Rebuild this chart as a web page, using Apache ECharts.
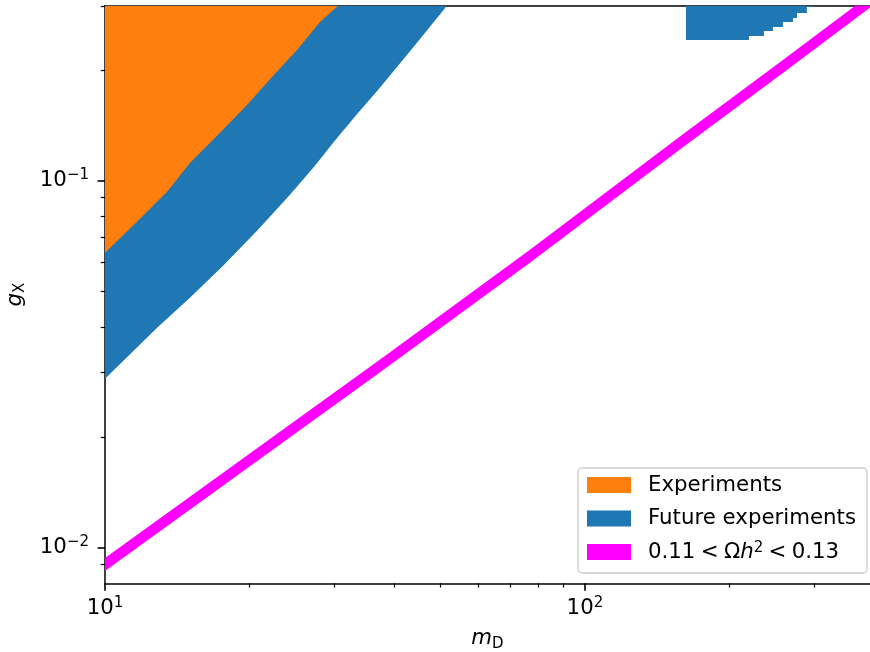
<!DOCTYPE html>
<html>
<head>
<meta charset="utf-8">
<script src="https://cdn.jsdelivr.net/npm/echarts@6/dist/echarts.min.js"></script>
<style>
  html, body { margin: 0; padding: 0; background: #ffffff; }
  #chart { width: 870px; height: 652px; }
</style>
</head>
<body>
<div id="chart"></div>
<script>
// Parameter plane: dark-photon mass m_D (x) against coupling g_X (y), both logarithmic.

// Region already excluded by experiments: lower edge of the excluded area.
const expMass     = [10, 11.66, 13.47, 15.03, 17.20, 19.76, 22.28, 25.12, 28.05, 30.58];
const expCoupling = [0.0637, 0.0773, 0.0933, 0.1119, 0.1335, 0.1610, 0.1919, 0.2274, 0.2710, 0.30];

// Reach of future experiments: lower edge of the probed area.
const futureMass     = [10, 12.84, 15.03, 17.62, 20.74, 24.29, 27.38, 29.99, 33.66, 37.05, 40.59, 44.45, 51.58];
const futureCoupling = [0.0289, 0.0398, 0.0480, 0.0587, 0.0731, 0.0916, 0.1099, 0.1277, 0.1531, 0.1769, 0.2043, 0.2360, 0.30];

// Second, high-mass patch probed by future experiments (stepped lower edge).
const futureHighMass     = [162.4, 219.6, 236.0, 246.4, 258.5, 271.3, 276.6, 290.0, 304.3];
const futureHighCoupling = [0.2420, 0.2482, 0.2561, 0.2627, 0.2710, 0.2780, 0.2868, 0.2978, 0.2978];

// Band with the observed relic abundance 0.11 < Omega h^2 < 0.13.
const relicMass       = [10, 38.49, 77.55, 160.0, 261.0, 381.2, 400];
const relicCouplingLo = [0.00864, 0.03087, 0.06039, 0.12337, 0.19864, 0.28802, 0.30175];
const relicCouplingHi = [0.00937, 0.03349, 0.06552, 0.13385, 0.21551, 0.31248, 0.32738];

// Axis ranges and ticks.
const massRange = [10, 392.6];
const couplingRange = [0.008, 0.3];
const massMajorTicks = [10, 100];
const massMinorTicks = [20, 30, 40, 50, 60, 70, 80, 90, 200, 300];
const couplingMajorTicks = [0.01, 0.1];
const couplingMinorTicks = [0.009, 0.02, 0.03, 0.04, 0.05, 0.06, 0.07, 0.08, 0.09, 0.2, 0.3];

const legendNames = ['Experiments', 'Future experiments', '0.11 < \u03A9h2 < 0.13'];
const colors = { exp: '#ff7f0e', future: '#1f77b4', relic: '#ff00ff' };

const FONT = 'DejaVu Sans';
const FS = 21.3;
const SUP = 15;

const pair = (xs, ys) => xs.map((x, i) => [x, ys[i]]);

function powLabel(v) {
  const e = Math.round(Math.log10(v));
  const s = e < 0 ? '\u2212' + Math.abs(e) : String(e);
  return '{b|10}{sup|' + s + '}';
}
const tickRich = {
  b: { fontFamily: FONT, fontSize: FS, lineHeight: 26, color: '#000' },
  sup: { fontFamily: FONT, fontSize: SUP, lineHeight: 18, verticalAlign: 'top', color: '#000' }
};

const spine = { show: true, lineStyle: { color: '#000', width: 1.5 } };

function helperAxis(range, position, ticks, len, width, showLine) {
  return {
    type: 'log', logBase: 10, min: range[0], max: range[1], position: position,
    axisLine: showLine ? spine : { show: false },
    axisTick: ticks ? { show: true, customValues: ticks, length: len, lineStyle: { color: '#000', width: width } } : { show: false },
    axisLabel: { show: false },
    splitLine: { show: false },
    minorTick: { show: false }
  };
}

const chart = echarts.init(document.getElementById('chart'), null, { renderer: 'canvas' });

chart.setOption({
  animation: false,
  backgroundColor: '#ffffff',
  grid: { left: 105, right: 0, top: 5.75, bottom: 68.7, containLabel: false, outerBoundsMode: 'none' },
  xAxis: [
    {
      type: 'log', logBase: 10, min: massRange[0], max: massRange[1], position: 'bottom',
      axisLine: spine,
      axisTick: { show: true, customValues: massMajorTicks, length: 7.4, lineStyle: { color: '#000', width: 1.6 } },
      axisLabel: { customValues: massMajorTicks, formatter: powLabel, margin: 12, rich: tickRich },
      splitLine: { show: false },
      minorTick: { show: false },
      name: '{i|m}{s|D}',
      nameLocation: 'middle',
      nameGap: 42,
      nameTextStyle: {
        rich: {
          i: { fontFamily: FONT, fontStyle: 'italic', fontSize: FS, lineHeight: 26, color: '#000' },
          s: { fontFamily: FONT, fontSize: SUP, lineHeight: 10, verticalAlign: 'bottom', color: '#000' }
        }
      }
    },
    helperAxis(massRange, 'bottom', massMinorTicks, 4.25, 1.2, false),
    helperAxis(massRange, 'top', null, 0, 0, true)
  ],
  yAxis: [
    {
      type: 'log', logBase: 10, min: couplingRange[0], max: couplingRange[1], position: 'left',
      axisLine: spine,
      axisTick: { show: true, customValues: couplingMajorTicks, length: 7.4, lineStyle: { color: '#000', width: 1.6 } },
      axisLabel: { customValues: couplingMajorTicks, formatter: powLabel, margin: 16, rich: tickRich },
      splitLine: { show: false },
      minorTick: { show: false },
      name: '{i|g}{s|X}',
      nameLocation: 'middle',
      nameRotate: 90,
      nameGap: 77,
      nameTextStyle: {
        rich: {
          i: { fontFamily: FONT, fontStyle: 'italic', fontSize: FS, lineHeight: 26, color: '#000' },
          s: { fontFamily: FONT, fontSize: SUP, lineHeight: 15.6, verticalAlign: 'bottom', color: '#000' }
        }
      }
    },
    helperAxis(couplingRange, 'left', couplingMinorTicks, 4.25, 1.2, false)
  ],
  legend: {
    orient: 'vertical',
    left: 578,
    top: 468,
    padding: [6, 11, 10, 9],
    itemGap: 11.5,
    itemWidth: 44,
    itemHeight: 16,
    icon: 'rect',
    selectedMode: false,
    backgroundColor: 'rgba(255,255,255,0.8)',
    borderColor: '#cccccc',
    borderWidth: 1.3,
    borderRadius: 4,
    itemStyle: { borderWidth: 0 },
    data: [
      { name: legendNames[0], itemStyle: { color: colors.exp } },
      { name: legendNames[1], itemStyle: { color: colors.future } },
      { name: legendNames[2], itemStyle: { color: colors.relic } }
    ],
    formatter: function (name) {
      if (name === legendNames[2]) {
        return '{t|0.11\u2005<\u2005\u03A9}{it|h}{sup|2}{t|\u2005<\u20050.13}';
      }
      return '{t|' + name + '}';
    },
    textStyle: {
      fontFamily: FONT, fontSize: FS, color: '#000', lineHeight: 22,
      padding: [0, 0, 0, 12],
      rich: {
        t: { fontFamily: FONT, fontSize: FS, lineHeight: 22, color: '#000' },
        it: { fontFamily: FONT, fontStyle: 'italic', fontSize: FS, lineHeight: 22, color: '#000' },
        sup: { fontFamily: FONT, fontSize: SUP, lineHeight: 14.2, verticalAlign: 'top', color: '#000' }
      }
    }
  },
  series: [
    {
      name: legendNames[1],
      type: 'line',
      xAxisIndex: 0, yAxisIndex: 0,
      data: pair(futureMass, futureCoupling),
      showSymbol: false,
      silent: true,
      color: colors.future,
      lineStyle: { width: 0, opacity: 0 },
      areaStyle: { origin: 'end', color: colors.future, opacity: 1 },
      z: 2
    },
    {
      name: legendNames[1],
      type: 'line',
      step: 'end',
      xAxisIndex: 0, yAxisIndex: 0,
      data: pair(futureHighMass, futureHighCoupling),
      showSymbol: false,
      silent: true,
      color: colors.future,
      lineStyle: { width: 0, opacity: 0 },
      areaStyle: { origin: 'end', color: colors.future, opacity: 1 },
      z: 2
    },
    {
      name: legendNames[0],
      type: 'line',
      xAxisIndex: 0, yAxisIndex: 0,
      data: pair(expMass, expCoupling),
      showSymbol: false,
      silent: true,
      color: colors.exp,
      lineStyle: { width: 0, opacity: 0 },
      areaStyle: { origin: 'end', color: colors.exp, opacity: 1 },
      z: 3
    },
    {
      name: legendNames[2],
      type: 'custom',
      xAxisIndex: 0, yAxisIndex: 0,
      coordinateSystem: 'cartesian2d',
      clip: true,
      silent: true,
      itemStyle: { color: colors.relic },
      data: relicMass.map((m, i) => [m, relicCouplingLo[i], relicCouplingHi[i]]),
      encode: { x: 0, y: [1, 2] },
      renderItem: function (params, api) {
        if (params.dataIndex !== 0) return null;
        const lower = relicMass.map((m, i) => api.coord([m, relicCouplingLo[i]]));
        const upper = relicMass.map((m, i) => api.coord([m, relicCouplingHi[i]])).reverse();
        return {
          type: 'polygon',
          shape: { points: lower.concat(upper) },
          style: { fill: colors.relic }
        };
      },
      z: 4
    }
  ]
});
</script>
</body>
</html>
